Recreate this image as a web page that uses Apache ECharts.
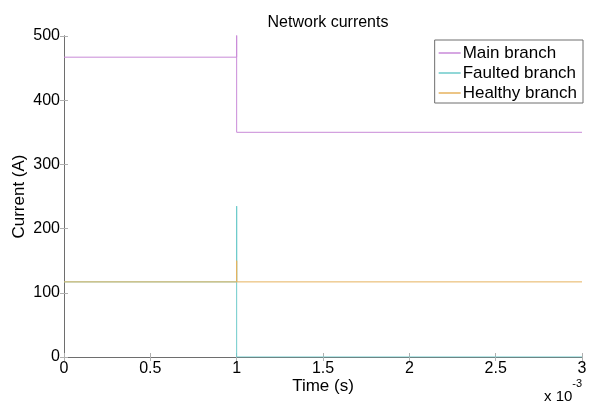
<!DOCTYPE html>
<html>
<head>
<meta charset="utf-8">
<script src="https://cdn.jsdelivr.net/npm/echarts@6/dist/echarts.min.js"></script>
<style>
  html, body { margin: 0; padding: 0; background: #fff; }
  #chart { width: 590px; height: 402px; }
</style>
</head>
<body>
<div id="chart"></div>
<script>
// time in ms (axis shows x 10^-3 s)
const mainTime = [0, 1, 1, 1, 3];
const mainCurrent = [467, 467, 520, 350, 350];
const faultedTime = [0, 1, 1, 1, 3];
const faultedCurrent = [117, 117, 235, 0, 0];
const healthyTime = [0, 1, 1, 1, 3];
const healthyCurrent = [117, 117, 150, 117, 117];
const seriesNames = ['Main branch', 'Faulted branch', 'Healthy branch'];
const seriesColors = ['#c98ad8', '#6ccaca', '#e6b25e'];

const FONT = 'Liberation Sans, Arial, sans-serif';
const AXIS_COLOR = '#6e6e6e';

const zip = (xs, ys) => xs.map((x, i) => [x, ys[i]]);

const chart = echarts.init(document.getElementById('chart'));

const boxAxis = {
  axisLine: { show: true, lineStyle: { color: AXIS_COLOR, width: 1 } },
  axisTick: { show: true, inside: true, length: 4, lineStyle: { color: '#b0b0b0' } },
  splitLine: { show: false },
};

chart.setOption({
  animation: false,
  backgroundColor: '#fff',
  title: {
    text: 'Network currents',
    left: 323,
    textAlign: 'center',
    top: 10,
    textStyle: { fontFamily: FONT, fontSize: 16, fontWeight: 'normal', color: '#000' },
  },
  grid: { left: 64, right: 8, top: 36, bottom: 45, outerBoundsMode: 'none' },
  xAxis: [
    {
      type: 'value', min: 0, max: 3, interval: 0.5,
      name: 'Time (s)', nameLocation: 'middle', nameGap: 21, nameMoveOverlap: false,
      nameTextStyle: { fontFamily: FONT, fontSize: 17, color: '#000' },
      axisLabel: { fontFamily: FONT, fontSize: 16, color: '#000', margin: 4,
        formatter: (v) => String(v) },
      ...boxAxis,
    },
    {
      type: 'value', min: 0, max: 3, interval: 0.5, position: 'top',
      axisLabel: { show: false },
      ...boxAxis,
    },
  ],
  yAxis: [
    {
      type: 'value', min: 0, max: 500, interval: 100,
      name: 'Current (A)', nameLocation: 'middle', nameGap: 36, nameMoveOverlap: false,
      nameTextStyle: { fontFamily: FONT, fontSize: 17, color: '#000' },
      axisLabel: { fontFamily: FONT, fontSize: 16, color: '#000', margin: 4 },
      ...boxAxis,
    },
    {
      type: 'value', min: 0, max: 500, interval: 100, position: 'right',
      axisLabel: { show: false },
      ...boxAxis,
    },
  ],
  legend: {
    orient: 'vertical',
    right: 7,
    top: 40,
    padding: [3, 6, 0, 4],
    itemGap: 0,
    itemWidth: 22,
    itemHeight: 1.5,
    icon: 'rect',
    borderColor: AXIS_COLOR,
    borderWidth: 1,
    backgroundColor: '#fff',
    textStyle: { fontFamily: FONT, fontSize: 17, lineHeight: 20, color: '#000', padding: [0, 0, 0, -3] },
    data: seriesNames,
  },
  graphic: [
    {
      type: 'text',
      left: 544,
      top: 378,
      style: {
        text: '{b|x 10}{s|-3}',
        rich: {
          b: { fontFamily: FONT, fontSize: 15, fill: '#000', verticalAlign: 'bottom', lineHeight: 26 },
          s: { fontFamily: FONT, fontSize: 11, fill: '#000', verticalAlign: 'top', lineHeight: 14 },
        },
      },
    },
  ],
  series: [
    { name: seriesNames[0], data: zip(mainTime, mainCurrent) },
    { name: seriesNames[1], data: zip(faultedTime, faultedCurrent) },
    { name: seriesNames[2], data: zip(healthyTime, healthyCurrent) },
  ].map((s, i) => ({
    ...s,
    type: 'line',
    symbol: 'none',
    color: seriesColors[i],
    lineStyle: { width: 1, color: seriesColors[i] },
    clip: true,
  })),
});
</script>
</body>
</html>
